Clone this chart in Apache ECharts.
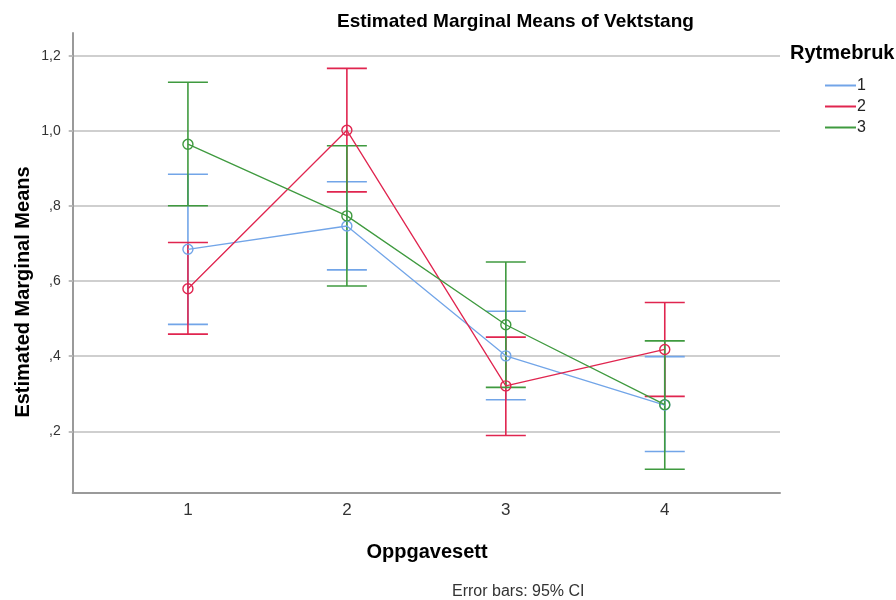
<!DOCTYPE html>
<html>
<head>
<meta charset="utf-8">
<script src="https://cdn.jsdelivr.net/npm/echarts@6/dist/echarts.min.js"></script>
<style>html,body{margin:0;padding:0;background:#fff}#c{width:896px;height:600px}</style>
</head>
<body>
<div id="c"></div>
<script>
const categories = [1, 2, 3, 4];
const yTicks = [0.2, 0.4, 0.6, 0.8, 1.0, 1.2];
const seriesNames = ['1', '2', '3'];
const colors = ['#72a5e8', '#e0254f', '#3f9a3f'];

const blueMean = [0.685, 0.747, 0.401, 0.270];
const blueLow  = [0.485, 0.630, 0.284, 0.146];
const blueHigh = [0.885, 0.865, 0.520, 0.399];

const redMean = [0.580, 1.002, 0.321, 0.418];
const redLow  = [0.459, 0.838, 0.189, 0.293];
const redHigh = [0.703, 1.167, 0.451, 0.543];

const greenMean = [0.965, 0.774, 0.484, 0.271];
const greenLow  = [0.801, 0.587, 0.317, 0.099];
const greenHigh = [1.130, 0.961, 0.651, 0.441];

const means = [blueMean, redMean, greenMean];
const lows = [blueLow, redLow, greenLow];
const highs = [blueHigh, redHigh, greenHigh];

const FONT = 'Liberation Sans, Arial, sans-serif';

function fmtY(v) {
  const s = v.toFixed(1).replace('.', ',');
  return s.startsWith('0') ? s.slice(1) : s;
}

const series = [];
seriesNames.forEach((name, i) => {
  series.push({
    name: name,
    type: 'custom',
    data: categories.map((c, k) => [c, lows[i][k], highs[i][k]]),
    renderItem: function (params, api) {
      const x = api.value(0);
      const lo = api.coord([x, api.value(1)]);
      const hi = api.coord([x, api.value(2)]);
      const hw = 20;
      const style = { stroke: colors[i], lineWidth: 1.6, fill: null };
      return {
        type: 'group',
        children: [
          { type: 'line', shape: { x1: lo[0], y1: lo[1], x2: hi[0], y2: hi[1] }, style: style },
          { type: 'line', shape: { x1: hi[0] - hw, y1: hi[1], x2: hi[0] + hw, y2: hi[1] }, style: style },
          { type: 'line', shape: { x1: lo[0] - hw, y1: lo[1], x2: lo[0] + hw, y2: lo[1] }, style: style }
        ]
      };
    },
    z: 2 + i,
    silent: true
  });
});
seriesNames.forEach((name, i) => {
  series.push({
    name: name,
    type: 'line',
    data: categories.map((c, k) => [c, means[i][k]]),
    symbol: 'circle',
    symbolSize: 10,
    itemStyle: { color: 'transparent', borderColor: colors[i], borderWidth: 1.4 },
    lineStyle: { color: colors[i], width: 1.3 },
    z: 10 + i,
    animation: false
  });
});

const chart = echarts.init(document.getElementById('c'));
chart.setOption({
  animation: false,
  backgroundColor: '#ffffff',
  title: {
    text: 'Estimated Marginal Means of Vektstang',
    left: 332, top: 7,
    textStyle: { fontFamily: FONT, fontSize: 19, fontWeight: 'bold', color: '#000' }
  },
  legend: {
    orient: 'vertical',
    left: 820, top: 70,
    itemWidth: 31, itemHeight: 2, itemGap: 0,
    icon: 'rect',
    data: seriesNames.map((n, i) => ({ name: n, itemStyle: { color: colors[i] } })),
    textStyle: { fontFamily: FONT, fontSize: 16, color: '#222', lineHeight: 21, padding: [0, 0, 0, -4] },
    selectedMode: false
  },
  grid: { left: 72.7, right: 116, top: 33, bottom: 107, containLabel: false },
  xAxis: {
    type: 'value',
    min: 0.275, max: 4.725,
    splitLine: { show: false },
    axisLine: { show: true, lineStyle: { color: '#9a9a9a', width: 2 } },
    axisTick: { show: false },
    axisLabel: {
      customValues: categories,
      formatter: v => String(v),
      fontFamily: FONT, fontSize: 17, color: '#333', margin: 9
    }
  },
  yAxis: {
    type: 'value',
    min: 0.0356, max: 1.2613,
    axisLine: { show: true, lineStyle: { color: '#9a9a9a', width: 2 } },
    axisTick: { show: true, customValues: yTicks, length: 4, lineStyle: { color: '#bdbdbd', width: 2 } },
    splitLine: { show: true, lineStyle: { color: '#cfcfcf', width: 2 } },
    axisLabel: {
      customValues: yTicks,
      formatter: fmtY,
      fontFamily: FONT, fontSize: 14, color: '#333', margin: 12
    }
  },
  graphic: [
    {
      type: 'text', x: 790, y: 53,
      style: { text: 'Rytmebruk', fontFamily: FONT, fontSize: 20, fontWeight: 'bold', fill: '#000', align: 'left', verticalAlign: 'middle' }
    },
    {
      type: 'text', x: 23, y: 292, rotation: Math.PI / 2,
      style: { text: 'Estimated Marginal Means', fontFamily: FONT, fontSize: 20, fontWeight: 'bold', fill: '#000', align: 'center', verticalAlign: 'middle' }
    },
    {
      type: 'text', x: 427, y: 552,
      style: { text: 'Oppgavesett', fontFamily: FONT, fontSize: 20, fontWeight: 'bold', fill: '#000', align: 'center', verticalAlign: 'middle' }
    },
    {
      type: 'text', x: 452, y: 592,
      style: { text: 'Error bars: 95% CI', fontFamily: FONT, fontSize: 16, fill: '#333', align: 'left', verticalAlign: 'middle' }
    }
  ],
  series: series
});
</script>
</body>
</html>
